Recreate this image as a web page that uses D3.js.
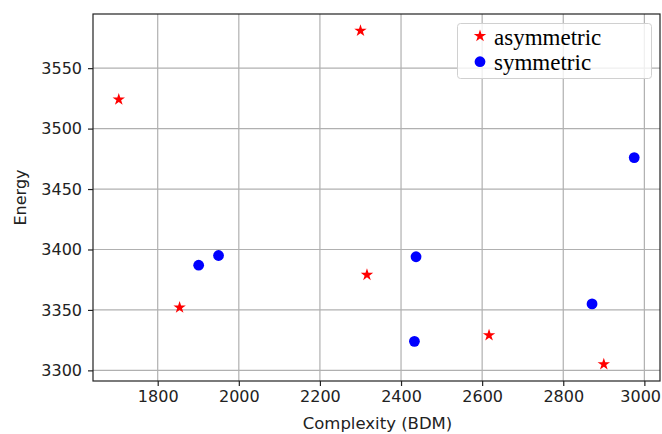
<!DOCTYPE html>
<html>
<head>
<meta charset="utf-8">
<script src="https://cdn.jsdelivr.net/npm/d3@7"></script>
<style>
  html, body { margin: 0; padding: 0; background: #fff; }
  svg { display: block; }
  .tick text { font-family: "DejaVu Sans", sans-serif; font-size: 16px; fill: #222; }
</style>
</head>
<body>
<svg id="chart" width="662" height="434"></svg>
<script>
// Asymmetric configurations: complexity (BDM) and energy
const asymComplexity = [1704, 2300, 1854, 2316, 2617, 2900];
const asymEnergy     = [3524, 3581, 3352, 3379, 3329, 3305];

// Symmetric configurations
const symComplexity = [1901, 1950, 2437, 2433, 2871, 2975];
const symEnergy     = [3387, 3395, 3394, 3324, 3355, 3476];

const xTicks = [1800, 2000, 2200, 2400, 2600, 2800, 3000];
const yTicks = [3300, 3350, 3400, 3450, 3500, 3550];

const seriesNames = ["asymmetric", "symmetric"];

const W = 662, H = 434;
const plot = { left: 93, top: 14, right: 660, bottom: 381 };

const svg = d3.select("#chart");

// Data limits padded by 5% on each side
function padded(vals) {
  const lo = d3.min(vals), hi = d3.max(vals), p = (hi - lo) * 0.05;
  return [lo - p, hi + p];
}
const x = d3.scaleLinear()
  .domain(padded(asymComplexity.concat(symComplexity)))
  .range([plot.left, plot.right]);
const y = d3.scaleLinear()
  .domain(padded(asymEnergy.concat(symEnergy)))
  .range([plot.bottom, plot.top]);

// Grid
const grid = svg.append("g");
grid.selectAll("line.vx").data(xTicks).enter().append("line")
  .attr("x1", d => x(d)).attr("x2", d => x(d))
  .attr("y1", plot.top).attr("y2", plot.bottom)
  .attr("stroke", "#b0b0b0").attr("stroke-width", 1.2);
grid.selectAll("line.hy").data(yTicks).enter().append("line")
  .attr("y1", d => y(d)).attr("y2", d => y(d))
  .attr("x1", plot.left).attr("x2", plot.right)
  .attr("stroke", "#b0b0b0").attr("stroke-width", 1.2);

// Axes
const xAxis = d3.axisBottom(x).tickValues(xTicks).tickFormat(d3.format("d"))
  .tickSize(5).tickPadding(5);
const yAxis = d3.axisLeft(y).tickValues(yTicks).tickFormat(d3.format("d"))
  .tickSize(5).tickPadding(6);

const gx = svg.append("g").attr("transform", `translate(0,${plot.bottom})`).call(xAxis);
const gy = svg.append("g").attr("transform", `translate(${plot.left},0)`).call(yAxis);
[gx, gy].forEach(g => {
  g.select(".domain").remove();
  g.selectAll(".tick line").attr("stroke", "#222").attr("stroke-width", 1.2);
});

// Keep the rightmost tick label inside the canvas
gx.selectAll(".tick text").each(function () {
  const box = this.getBBox();
  const tx = +this.parentNode.getAttribute("transform").match(/translate\(([-\d.]+)/)[1];
  const overflow = tx + box.x + box.width - (W - 1);
  if (overflow > 0) d3.select(this).attr("x", -overflow);
});

// Frame
svg.append("rect")
  .attr("x", plot.left).attr("y", plot.top)
  .attr("width", plot.right - plot.left).attr("height", plot.bottom - plot.top)
  .attr("fill", "none").attr("stroke", "#222").attr("stroke-width", 1.2);

// Axis titles
svg.append("text")
  .attr("x", (plot.left + plot.right) / 2 + 1).attr("y", 423)
  .attr("text-anchor", "middle").attr("dominant-baseline", "central")
  .style("font-family", "DejaVu Sans, sans-serif").style("font-size", "16.5px").attr("fill", "#222")
  .text("Complexity (BDM)");
svg.append("text")
  .attr("transform", `translate(20,${(plot.top + plot.bottom) / 2}) rotate(-90)`)
  .attr("text-anchor", "middle").attr("dominant-baseline", "central")
  .style("font-family", "DejaVu Sans, sans-serif").style("font-size", "16px").attr("fill", "#222")
  .text("Energy");

// Markers
const star = d3.symbol().type(d3.symbolStar).size(48);
const asymData = asymComplexity.map((c, i) => ({ c, e: asymEnergy[i] }));
const symData = symComplexity.map((c, i) => ({ c, e: symEnergy[i] }));

svg.append("g").selectAll("path").data(asymData).enter().append("path")
  .attr("d", star)
  .attr("transform", d => `translate(${x(d.c)},${y(d.e)})`)
  .attr("fill", "red");

svg.append("g").selectAll("circle").data(symData).enter().append("circle")
  .attr("cx", d => x(d.c)).attr("cy", d => y(d.e)).attr("r", 5.4)
  .attr("fill", "blue");

// Legend
const lg = svg.append("g");
lg.append("rect")
  .attr("x", 457.5).attr("y", 23.5).attr("width", 194).attr("height", 55)
  .attr("rx", 3).attr("fill", "#fff").attr("fill-opacity", 0.8)
  .attr("stroke", "#d0d0d0").attr("stroke-width", 1);
seriesNames.forEach((name, i) => {
  const cy = 36 + i * 25.7;
  if (i === 0) {
    lg.append("path").attr("d", star).attr("transform", `translate(480,${cy})`).attr("fill", "red");
  } else {
    lg.append("circle").attr("cx", 480).attr("cy", cy).attr("r", 5.4).attr("fill", "blue");
  }
  lg.append("text")
    .attr("x", 494).attr("y", cy + 1)
    .attr("dominant-baseline", "central")
    .style("font-family", "Liberation Serif, serif").style("font-size", "23px").attr("fill", "#000")
    .text(name);
});
</script>
</body>
</html>
